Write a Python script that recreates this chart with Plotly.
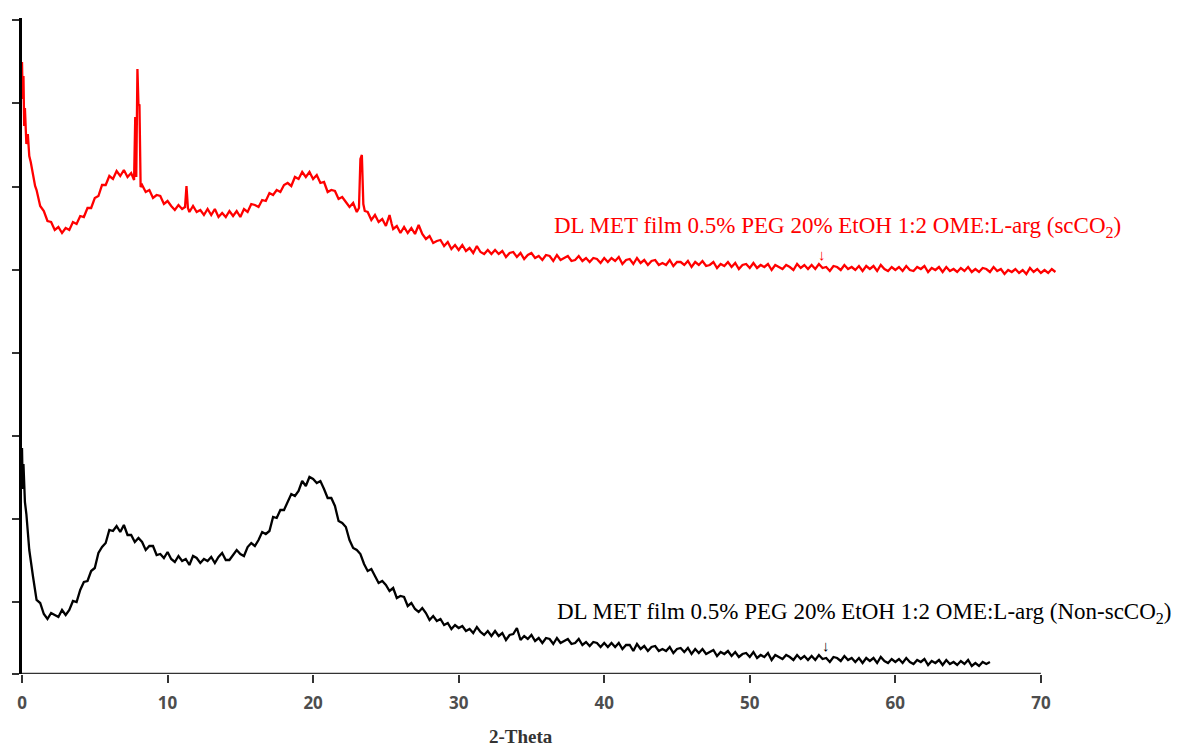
import plotly.graph_objects as go

# ---------------- data (intensity, arbitrary units) ----------------
# Black curve: DL MET film ... (Non-scCO2)
black_x_start = [0.0, 0.05, 0.1, 0.2, 0.3, 0.4, 0.5]
black_y_start = [226, 185, 210, 172, 160, 138, 124]

black_x_mid = [round(0.75 + 0.25 * i, 2) for i in range(118)]  # scan grid 0.75..30.0
black_y_mid = [
    98, 74, 71, 60, 55, 61, 59, 57, 64, 59,
    64, 73, 72, 84, 92, 93, 103, 106, 121, 127,
    131, 144, 143, 148, 142, 149, 139, 139, 132, 136,
    132, 124, 128, 128, 119, 120, 116, 122, 115, 112,
    118, 113, 115, 109, 118, 116, 111, 115, 113, 117,
    111, 117, 121, 114, 114, 119, 124, 120, 118, 127,
    131, 128, 134, 142, 140, 143, 157, 156, 164, 164,
    173, 180, 178, 183, 193, 188, 197, 195, 191, 193,
    185, 176, 176, 168, 153, 151, 147, 134, 126, 124,
    120, 110, 103, 105, 98, 91, 93, 89, 83, 86,
    76, 78, 77, 68, 71, 65, 62, 66, 61, 54,
    58, 53, 55, 49, 51, 45, 49, 46,
]

black_x_tail = [round(30.25 + 0.25 * i, 2) for i in range(146)]  # scan grid 30.25..66.5
black_y_tail = [
    48, 43, 45, 41, 47, 42, 39, 43,
    38, 43, 38, 41, 34, 39, 40, 46,
    34, 38, 35, 39, 33, 36, 31, 36,
    35, 30, 36, 31, 33, 35, 30, 31,
    35, 29, 32, 28, 32, 31, 27, 31,
    27, 31, 27, 31, 25, 29, 29, 23,
    30, 25, 28, 23, 27, 28, 23, 25,
    23, 27, 21, 25, 26, 22, 26, 20,
    25, 21, 25, 20, 22, 24, 18, 22,
    20, 23, 18, 22, 17, 20, 21, 17,
    22, 16, 19, 17, 21, 14, 19, 17,
    15, 19, 17, 14, 19, 15, 18, 14,
    18, 14, 19, 15, 16, 12, 17, 16,
    13, 18, 14, 16, 12, 16, 11, 16,
    13, 16, 11, 17, 13, 11, 15, 12,
    15, 11, 16, 12, 10, 14, 12, 15,
    9, 13, 11, 14, 9, 14, 10, 12,
    9, 13, 10, 14, 8, 11, 8, 12,
    10, 12,
]

# Red curve: DL MET film ... (scCO2)
red_x_start = [0.0, 0.05, 0.1, 0.15, 0.2, 0.3, 0.4, 0.5, 0.6, 0.75,
               0.9, 1.0, 1.25, 1.5, 1.75, 2.0, 2.25, 2.5, 2.75, 3.0,
               3.25, 3.5, 3.75, 4.0, 4.25, 4.5, 4.75, 5.0, 5.25, 5.5,
               5.75, 6.0, 6.25, 6.5, 6.75, 7.0, 7.25, 7.5, 7.7, 7.78,
               7.85, 7.93, 8.0, 8.07, 8.15]
red_y_start = [612, 575, 598, 548, 566, 530, 540, 518, 512, 499,
               488, 484, 468, 463, 453, 452, 444, 447, 441, 446,
               444, 452, 450, 458, 457, 466, 466, 476, 478, 489,
               489, 498, 495, 503, 498, 504, 497, 501, 494, 557,
               497, 605, 570, 569, 487]

red_x_mid = [8.25, 8.5, 8.75, 9.0, 9.25, 9.5, 9.75, 10.0, 10.25, 10.5,
             10.75, 11.0, 11.2, 11.3, 11.4, 11.5, 11.75, 12.0, 12.25, 12.5,
             12.75, 13.0, 13.25, 13.5, 13.75, 14.0, 14.25, 14.5, 14.75, 15.0,
             15.25, 15.5, 15.75, 16.0, 16.25, 16.5, 16.75, 17.0, 17.25, 17.5,
             17.75, 18.0, 18.25, 18.5, 18.75, 19.0, 19.25, 19.5, 19.75, 20.0,
             20.25, 20.5, 20.75, 21.0, 21.25, 21.5, 21.75, 22.0, 22.25, 22.5,
             22.75, 23.0, 23.15, 23.25, 23.35, 23.45, 23.55, 23.75, 24.0, 24.25,
             24.5, 24.75, 25.0, 25.25, 25.4, 25.5, 25.75, 26.0, 26.25, 26.5,
             26.75, 27.0, 27.25, 27.5, 27.75, 28.0, 28.25, 28.5, 28.75, 29.0,
             29.25, 29.5, 29.75, 30.0]
red_y_mid = [489, 482, 484, 476, 479, 478, 470, 473, 468, 464,
             469, 465, 467, 488, 466, 462, 468, 462, 464, 459,
             465, 459, 465, 457, 461, 457, 463, 458, 463, 457,
             465, 462, 470, 469, 467, 474, 473, 481, 479, 484,
             482, 489, 491, 488, 497, 495, 502, 497, 502, 495,
             499, 491, 492, 482, 484, 483, 475, 477, 472, 467,
             471, 462, 466, 515, 519, 470, 463, 462, 454, 459,
             452, 455, 448, 459, 450, 445, 448, 441, 447, 441,
             446, 440, 449, 440, 435, 438, 431, 433, 434, 428,
             432, 425, 429, 424]

red_x_tail = [round(30.25 + 0.25 * i, 2) for i in range(164)]  # scan grid 30.25..71.0
red_y_tail = [
    429, 423, 426, 421, 428, 422, 420, 424,
    420, 424, 420, 423, 417, 421, 422, 417,
    421, 415, 419, 421, 416, 418, 414, 419,
    418, 413, 419, 414, 416, 418, 413, 414,
    418, 413, 416, 412, 416, 415, 411, 416,
    412, 416, 413, 417, 410, 414, 415, 410,
    416, 411, 414, 409, 413, 414, 409, 411,
    409, 414, 408, 412, 412, 409, 413, 407,
    412, 409, 413, 408, 409, 412, 406, 410,
    408, 412, 407, 411, 405, 409, 410, 406,
    411, 406, 409, 407, 410, 404, 409, 407,
    405, 409, 407, 404, 410, 406, 409, 405,
    409, 405, 410, 406, 407, 403, 408, 407,
    404, 409, 405, 407, 404, 408, 403, 408,
    405, 408, 403, 409, 405, 403, 407, 404,
    407, 403, 408, 404, 403, 407, 405, 408,
    402, 406, 404, 407, 402, 407, 403, 405,
    402, 406, 403, 407, 402, 405, 402, 406,
    405, 402, 407, 403, 405, 400, 404, 402,
    405, 401, 404, 400, 406, 402, 405, 401,
    404, 401, 405, 402,
]

x_tick_vals = [0, 10, 20, 30, 40, 50, 60, 70]
y_tick_vals = [0, 72, 155.1, 238.2, 321.3, 404.4, 487.5, 570.6, 653.7]

red_label = "DL MET film 0.5% PEG 20% EtOH 1:2 OME:L-arg (scCO<sub>2</sub>)"
black_label = "DL MET film 0.5% PEG 20% EtOH 1:2 OME:L-arg (Non-scCO<sub>2</sub>)"
x_title = "2-Theta"

# ---------------- figure ----------------
black_x = black_x_start + black_x_mid + black_x_tail
black_y = black_y_start + black_y_mid + black_y_tail
red_x = red_x_start + red_x_mid + red_x_tail
red_y = red_y_start + red_y_mid + red_y_tail

fig = go.Figure()
fig.add_trace(go.Scatter(x=red_x, y=red_y, mode="lines",
                         line=dict(color="#ff0000", width=2.3), name="scCO2"))
fig.add_trace(go.Scatter(x=black_x, y=black_y, mode="lines",
                         line=dict(color="#000000", width=2.3), name="Non-scCO2"))

fig.update_layout(
    width=1180, height=747,
    margin=dict(l=22, r=110, t=18, b=73),
    paper_bgcolor="white", plot_bgcolor="white",
    showlegend=False,
    hovermode=False,
    xaxis=dict(range=[0, 72], showgrid=False, zeroline=False, showline=False,
               tickvals=x_tick_vals, ticks="outside", ticklen=8, tickwidth=2,
               tickcolor="#333333", ticklabelstandoff=6,
               tickfont=dict(family="Open Sans", size=17, color="#4d4d4d", weight="bold")),
    yaxis=dict(range=[0, 656], showgrid=False, zeroline=False, showline=True,
               linecolor="#000000", linewidth=3,
               tickvals=y_tick_vals, ticks="outside", ticklen=7, tickwidth=2,
               tickcolor="#333333", showticklabels=False),
    shapes=[dict(type="line", xref="x", yref="y", x0=0, x1=70, y0=0, y1=0,
                 line=dict(color="#333333", width=2.5))],
    annotations=[
        dict(x=56.0, y=447, xref="x", yref="y", text=red_label, showarrow=False,
             font=dict(family="Liberation Serif", size=23, color="#ff0000")),
        dict(x=57.9, y=61, xref="x", yref="y", text=black_label, showarrow=False,
             font=dict(family="Liberation Serif", size=23, color="#000000")),
        dict(x=54.95, y=420, xref="x", yref="y", text="↓", showarrow=False,
             font=dict(family="Liberation Sans", size=15, color="#ff0000")),
        dict(x=55.25, y=29, xref="x", yref="y", text="↓", showarrow=False,
             font=dict(family="Liberation Sans", size=15, color="#000000")),
        dict(x=0.476, y=-0.096, xref="paper", yref="paper", text=x_title,
             showarrow=False, yanchor="middle",
             font=dict(family="Liberation Serif", size=19, color="#333333", weight="bold")),
    ],
)

fig.write_html("out.html")
